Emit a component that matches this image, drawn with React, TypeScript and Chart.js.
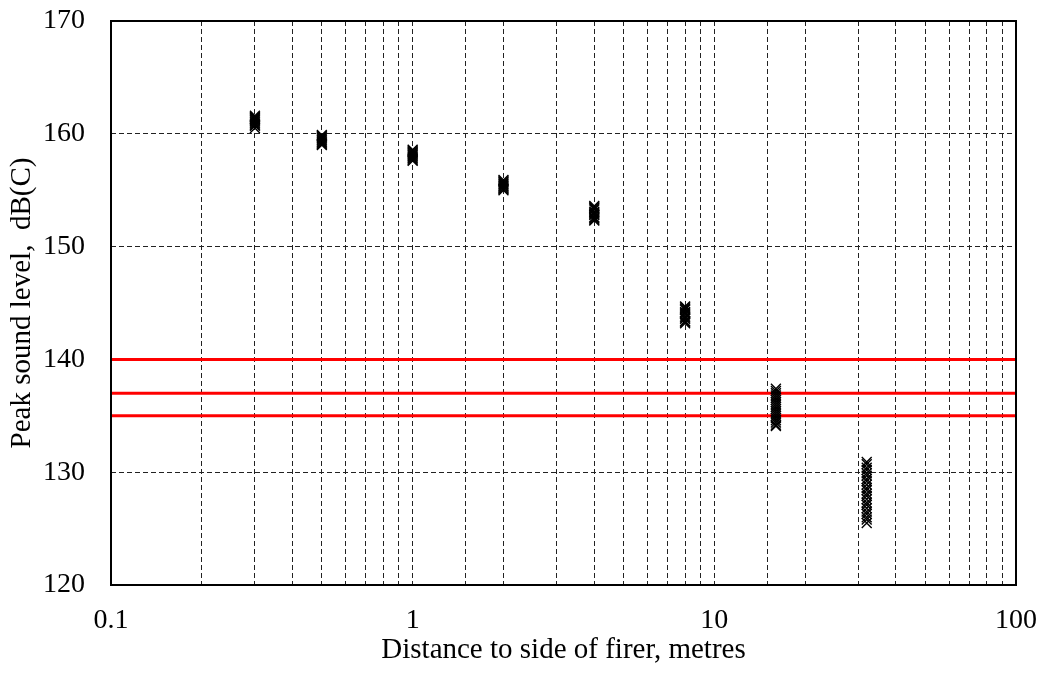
import React, { useEffect, useRef } from "react";
import { Chart, registerables } from "chart.js";

Chart.register(...registerables);

// Distances (m) at which measurements were taken
const distances = [0.3, 0.5, 1, 2, 4, 8, 16, 32];

// Peak sound levels, dB(C), for each distance
const levelsAt03 = [161.6, 161.5, 161.4, 161.3, 161.2, 161.1, 161.0, 160.9, 160.8, 160.7, 160.5];
const levelsAt05 = [159.9, 159.8, 159.7, 159.6, 159.5, 159.4, 159.3, 159.2, 159.1, 159.0];
const levelsAt1 = [158.6, 158.5, 158.4, 158.3, 158.2, 158.1, 158.0, 157.9, 157.8, 157.7, 157.6];
const levelsAt2 = [155.9, 155.8, 155.7, 155.6, 155.5, 155.4, 155.3, 155.2, 155.1, 155.0];
const levelsAt4 = [153.6, 153.5, 153.4, 153.3, 153.1, 153.0, 152.9, 152.8, 152.6, 152.5, 152.4, 152.3];
const levelsAt8 = [144.7, 144.6, 144.5, 144.4, 144.2, 144.1, 144.0, 143.8, 143.7, 143.6, 143.4, 143.3, 143.2];
const levelsAt16 = [137.4, 137.2, 137.0, 136.8, 136.6, 136.4, 136.2, 136.0, 135.8, 135.6, 135.4, 135.2, 135.0, 134.8, 134.6, 134.4, 134.2, 134.1];
const levelsAt32 = [130.9, 130.7, 130.4, 130.2, 129.9, 129.7, 129.4, 129.2, 128.9, 128.6, 128.4, 128.1, 127.9, 127.6, 127.3, 127.1, 126.8, 126.5, 126.3, 126.0, 125.8, 125.5];

// Limit lines, dB(C)
const limitLevels = [140, 137, 135];
const xRange = [0.1, 100];

const xMajorTicks = [0.1, 1, 10, 100];
const yTicks = [120, 130, 140, 150, 160, 170];

const levelsByDistance = [levelsAt03, levelsAt05, levelsAt1, levelsAt2, levelsAt4, levelsAt8, levelsAt16, levelsAt32];

const FONT = "'Liberation Serif', 'Times New Roman', serif";

const framePlugin = {
  id: "frame",
  afterDraw(chart: any) {
    const { ctx, chartArea } = chart;
    ctx.save();
    ctx.strokeStyle = "#000";
    ctx.lineWidth = 2;
    ctx.strokeRect(chartArea.left, chartArea.top, chartArea.right - chartArea.left, chartArea.bottom - chartArea.top);
    ctx.restore();
  },
};

export default function App() {
  const ref = useRef<HTMLCanvasElement>(null);

  useEffect(() => {
    if (!ref.current) return;
    const points: { x: number; y: number }[] = [];
    distances.forEach((d, i) => {
      levelsByDistance[i].forEach((v) => points.push({ x: d, y: v }));
    });

    const limitDatasets = limitLevels.map((lv) => ({
      type: "line" as const,
      data: xRange.map((x) => ({ x, y: lv })),
      borderColor: "#ff0000",
      borderWidth: 3,
      pointRadius: 0,
      fill: false,
      order: 2,
    }));

    const chart = new Chart(ref.current, {
      type: "scatter",
      data: {
        datasets: [
          {
            data: points,
            pointStyle: "crossRot",
            pointRadius: 7,
            borderColor: "#000",
            backgroundColor: "#000",
            borderWidth: 1.4,
            order: 1,
          } as any,
          ...limitDatasets,
        ],
      },
      options: {
        animation: false,
        responsive: false,
        maintainAspectRatio: false,
        layout: { padding: { top: 21, right: 27, left: 0, bottom: 0 } },
        plugins: { legend: { display: false }, tooltip: { enabled: false } },
        scales: {
          x: {
            type: "logarithmic",
            min: 0.1,
            max: 100,
            afterFit: (s: any) => {
              s.height = 88;
              s.paddingLeft = 0;
              s.paddingRight = 0;
            },
            grid: { color: "#222", lineWidth: 1, drawTicks: false },
            border: { display: false, dash: [5, 3] },
            ticks: {
              autoSkip: false,
              maxRotation: 0,
              padding: 19,
              color: "#000",
              font: { family: FONT, size: 28 },
              callback: (v: any) => {
                const n = Number(v);
                const hit = xMajorTicks.find((t) => Math.abs(t - n) < 1e-9);
                return hit !== undefined ? String(hit) : "";
              },
            },
            title: {
              display: true,
              text: "Distance to side of firer, metres",
              color: "#000",
              font: { family: FONT, size: 29 },
              padding: { top: 0, bottom: 5 },
            },
          },
          y: {
            min: 120,
            max: 170,
            afterFit: (s: any) => {
              s.width = 111;
              s.paddingTop = 0;
              s.paddingBottom = 0;
            },
            afterBuildTicks: (s: any) => {
              s.ticks = yTicks.map((v) => ({ value: v }));
            },
            grid: { color: "#222", lineWidth: 1, drawTicks: false },
            border: { display: false, dash: [5, 3] },
            ticks: {
              padding: 26,
              color: "#000",
              font: { family: FONT, size: 28 },
            },
            title: {
              display: true,
              text: "Peak sound level,  dB(C)",
              color: "#000",
              font: { family: FONT, size: 29 },
              padding: { top: 5, bottom: 0 },
            },
          },
        },
      },
      plugins: [framePlugin],
    });
    return () => chart.destroy();
  }, []);

  return (
    <div style={{ position: "absolute", left: 0, top: 0, width: 1043, height: 673, background: "#fff" }}>
      <canvas ref={ref} width={1043} height={673} style={{ width: 1043, height: 673 }} />
    </div>
  );
}
